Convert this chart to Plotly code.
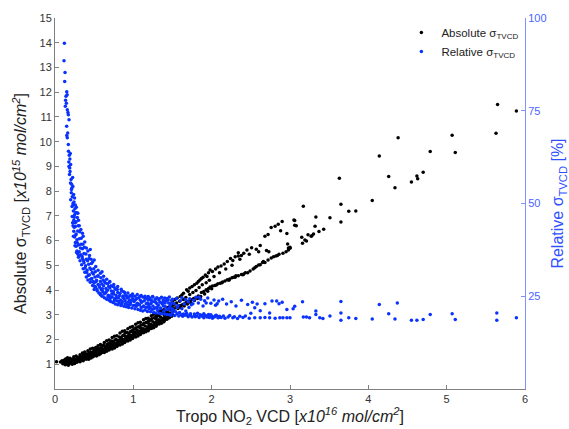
import plotly.graph_objects as go

# ---------------- Absolute sigma_TVCD (x: 1e16 molec/cm2, y: 1e15 molec/cm2) ----------------
abs_start = [(0.02, 1.10), (0.07, 1.09), (0.09, 1.14), (0.10, 1.02)]

abs_band = [
    (0.11, 1.05), (0.12, 1.12), (0.13, 0.98), (0.13, 1.20), (0.14, 1.08), (0.15, 1.15), (0.15, 1.01),
    (0.16, 1.26), (0.17, 1.10), (0.17, 0.96), (0.18, 1.18), (0.19, 1.04), (0.19, 1.24), (0.20, 1.11),
    (0.21, 1.20), (0.22, 1.06), (0.22, 1.00), (0.23, 1.15), (0.24, 1.30), (0.24, 1.09), (0.25, 1.03),
    (0.26, 1.19), (0.26, 1.12), (0.27, 1.33), (0.28, 1.08), (0.28, 1.24), (0.29, 1.14), (0.30, 1.28),
    (0.31, 1.16), (0.32, 1.38), (0.32, 1.10), (0.33, 1.25), (0.34, 1.17), (0.35, 1.46), (0.35, 1.28),
    (0.36, 1.14), (0.37, 1.36), (0.38, 1.22), (0.38, 1.50), (0.39, 1.30), (0.40, 1.20), (0.40, 1.42),
    (0.41, 1.30), (0.42, 1.55), (0.43, 1.20), (0.43, 1.44), (0.44, 1.32), (0.45, 1.62), (0.46, 1.25),
    (0.46, 1.47), (0.47, 1.38), (0.48, 1.65), (0.48, 1.29), (0.49, 1.51), (0.50, 1.35), (0.50, 1.58),
    (0.51, 1.40), (0.52, 1.68), (0.53, 1.33), (0.53, 1.56), (0.54, 1.45), (0.55, 1.75), (0.56, 1.38),
    (0.56, 1.62), (0.57, 1.50), (0.58, 1.80), (0.58, 1.43), (0.59, 1.66), (0.60, 1.48), (0.60, 1.72),
    (0.61, 1.55), (0.62, 1.78), (0.63, 1.48), (0.63, 1.88), (0.64, 1.60), (0.65, 1.72), (0.66, 1.53),
    (0.66, 1.95), (0.67, 1.66), (0.68, 1.83), (0.69, 1.58), (0.69, 1.98), (0.70, 1.63), (0.70, 1.86),
    (0.71, 1.68), (0.72, 1.94), (0.73, 1.62), (0.73, 2.08), (0.74, 1.73), (0.75, 1.88), (0.76, 1.66),
    (0.76, 2.13), (0.77, 1.79), (0.78, 2.00), (0.79, 1.72), (0.79, 2.15), (0.80, 1.77), (0.80, 1.96),
    (0.81, 1.84), (0.82, 2.10), (0.83, 1.78), (0.83, 2.26), (0.84, 1.90), (0.85, 2.04), (0.86, 1.82),
    (0.86, 2.33), (0.87, 1.96), (0.88, 2.18), (0.89, 1.88), (0.89, 2.36), (0.90, 1.94), (0.90, 2.12),
    (0.91, 2.00), (0.92, 2.28), (0.93, 1.94), (0.93, 2.44), (0.94, 2.05), (0.95, 2.20), (0.96, 1.98),
    (0.96, 2.50), (0.97, 2.12), (0.98, 2.34), (0.99, 2.04), (0.99, 2.53), (1.00, 2.10), (1.00, 2.30),
    (1.01, 2.16), (1.02, 2.44), (1.03, 2.10), (1.03, 2.62), (1.04, 2.22), (1.05, 2.38), (1.06, 2.14),
    (1.06, 2.68), (1.07, 2.28), (1.08, 2.50), (1.09, 2.20), (1.09, 2.70), (1.10, 2.26), (1.10, 2.46),
    (1.11, 2.33), (1.12, 2.60), (1.13, 2.27), (1.13, 2.80), (1.14, 2.38), (1.15, 2.55), (1.16, 2.31),
    (1.16, 2.85), (1.17, 2.44), (1.18, 2.68), (1.19, 2.36), (1.19, 2.86), (1.20, 2.42), (1.20, 2.64),
    (1.21, 2.50), (1.22, 2.78), (1.23, 2.45), (1.23, 2.96), (1.24, 2.55), (1.25, 2.72), (1.26, 2.48),
    (1.26, 3.02), (1.27, 2.62), (1.28, 2.86), (1.29, 2.54), (1.29, 3.00), (1.30, 2.60), (1.30, 2.80),
    (1.31, 2.67), (1.32, 2.96), (1.33, 2.63), (1.33, 3.14), (1.34, 2.73), (1.35, 2.90), (1.36, 2.66),
    (1.36, 3.18), (1.37, 2.80), (1.38, 3.04), (1.39, 2.72), (1.39, 3.20), (1.40, 2.78), (1.40, 2.98),
    (1.41, 2.86), (1.42, 3.12), (1.43, 2.82), (1.44, 3.30), (1.45, 2.92), (1.45, 3.08), (1.46, 2.88),
    (1.47, 3.36), (1.48, 2.98), (1.48, 3.20), (1.49, 2.94), (1.50, 3.40), (1.50, 3.00), (1.51, 3.16),
]

abs_band_fill = [
    (0.115, 1.15), (0.135, 1.04), (0.145, 1.22), (0.165, 1.02), (0.175, 1.16), (0.185, 1.09), (0.195, 1.20),
    (0.205, 1.06), (0.215, 1.13), (0.235, 1.22), (0.245, 1.05), (0.255, 1.16), (0.275, 1.10), (0.295, 1.21),
    (0.305, 1.22), (0.325, 1.31), (0.345, 1.24), (0.355, 1.35), (0.365, 1.20), (0.385, 1.40), (0.395, 1.24),
    (0.405, 1.36), (0.425, 1.42), (0.435, 1.27), (0.455, 1.50), (0.465, 1.40), (0.485, 1.45), (0.495, 1.33),
    (0.505, 1.52), (0.525, 1.47), (0.535, 1.64), (0.545, 1.40), (0.565, 1.56), (0.575, 1.66), (0.595, 1.52),
    (0.605, 1.62), (0.625, 1.58), (0.635, 1.72), (0.655, 1.64), (0.665, 1.80), (0.685, 1.70), (0.695, 1.77),
    (0.705, 1.72), (0.725, 1.80), (0.735, 1.92), (0.755, 1.76), (0.765, 1.98), (0.785, 1.85), (0.795, 1.80),
    (0.805, 1.90), (0.825, 1.96), (0.835, 2.08), (0.855, 1.92), (0.865, 2.15), (0.885, 2.00), (0.895, 2.26),
    (0.905, 2.04), (0.925, 2.12), (0.935, 2.25), (0.955, 2.08), (0.965, 2.32), (0.985, 2.18), (0.995, 2.40),
    (1.005, 2.20), (1.025, 2.30), (1.035, 2.48), (1.055, 2.24), (1.065, 2.52), (1.085, 2.34), (1.095, 2.58),
    (1.105, 2.38), (1.125, 2.44), (1.135, 2.66), (1.155, 2.40), (1.165, 2.70), (1.185, 2.52), (1.195, 2.76),
    (1.205, 2.54), (1.225, 2.62), (1.235, 2.84), (1.255, 2.58), (1.265, 2.88), (1.285, 2.70), (1.295, 2.92),
    (1.305, 2.72), (1.325, 2.80), (1.335, 3.02), (1.355, 2.76), (1.365, 3.06), (1.385, 2.86), (1.395, 3.10),
    (1.405, 2.92), (1.425, 2.98), (1.435, 3.20), (1.455, 2.96), (1.465, 3.24), (1.485, 3.06), (1.495, 3.28),
]

abs_branch_low = [
    (1.52, 3.24), (1.55, 3.30), (1.58, 3.33), (1.60, 3.38), (1.63, 3.42), (1.66, 3.47), (1.68, 3.52),
    (1.71, 3.55), (1.74, 3.61), (1.77, 3.66), (1.80, 3.70), (1.83, 3.76), (1.87, 3.90), (1.90, 3.94),
    (1.93, 4.01), (1.96, 4.06), (1.98, 4.12), (2.01, 4.16), (2.04, 4.18), (2.08, 4.26), (2.11, 4.28),
    (2.14, 4.33), (2.17, 4.37), (2.20, 4.42), (2.23, 4.45), (2.26, 4.50), (2.28, 4.52), (2.31, 4.58),
    (2.34, 4.58), (2.38, 4.63), (2.41, 4.65), (2.43, 4.70), (2.46, 4.70), (2.49, 4.77), (2.53, 4.85),
    (2.57, 4.95), (2.60, 5.01), (2.62, 5.02), (2.65, 5.11), (2.68, 5.11), (2.72, 5.22), (2.76, 5.30),
    (2.79, 5.35), (2.82, 5.38), (2.86, 5.45), (2.91, 5.49), (2.95, 5.55), (2.98, 5.62), (3.00, 5.69),
    (2.97, 5.86), (2.73, 5.55), (3.00, 5.73), (2.98, 5.70),
]

abs_branch_high = [
    (1.50, 3.55), (1.53, 3.62), (1.56, 3.68), (1.60, 3.74), (1.62, 3.80), (1.64, 3.87), (1.68, 4.01),
    (1.70, 3.95), (1.72, 4.08), (1.75, 4.14), (1.78, 4.22), (1.81, 4.28), (1.83, 4.35), (1.85, 4.41),
    (1.87, 4.47), (1.89, 4.52), (1.92, 4.61), (1.94, 4.55), (1.96, 4.70), (1.98, 4.81), (2.01, 4.75),
    (2.05, 4.85), (2.08, 4.93), (2.12, 4.97), (2.16, 5.05), (2.20, 5.15), (2.24, 5.28), (2.27, 5.20),
    (2.30, 5.35), (2.34, 5.38), (2.34, 5.51), (2.38, 5.40), (2.41, 5.49), (2.45, 5.62), (2.51, 5.71),
    (2.57, 5.65), (2.62, 5.80), (2.68, 6.18), (2.72, 6.25), (2.76, 6.53), (2.81, 6.58), (2.85, 6.66),
    (2.90, 6.77), (2.96, 6.29), (3.05, 6.83), (3.06, 6.62), (3.06, 6.81), (3.08, 6.60),
]

abs_branch_fill = [
    (1.52, 3.40), (1.55, 3.48), (1.57, 3.25), (1.59, 3.55), (1.61, 3.30), (1.64, 3.62), (1.65, 3.36),
    (1.67, 3.70), (1.69, 3.44), (1.72, 3.82), (1.73, 3.50), (1.76, 3.90), (1.78, 3.58), (1.80, 3.98),
    (1.82, 3.66), (1.84, 4.10), (1.86, 3.74), (1.88, 4.22), (1.91, 3.84), (1.93, 4.30), (1.95, 3.95),
    (1.97, 4.40), (2.00, 4.05), (2.03, 4.55), (2.06, 4.20), (2.10, 4.70), (2.13, 4.30), (2.18, 4.85),
    (2.22, 4.40), (2.26, 5.00), (2.30, 4.52), (2.36, 5.25), (2.40, 4.62), (2.48, 5.45), (2.55, 4.90),
    (2.60, 5.55), (2.66, 5.15), (2.70, 5.60), (2.84, 5.40), (2.88, 6.40),
]

abs_sparse = [
    (3.15, 6.14), (3.16, 5.89), (3.17, 7.39), (3.19, 6.02), (3.21, 5.98), (3.23, 6.24), (3.27, 6.18),
    (3.28, 6.20), (3.30, 6.27), (3.32, 6.58), (3.33, 6.95), (3.37, 6.37), (3.43, 6.46), (3.51, 6.92),
    (3.63, 8.52), (3.65, 7.47), (3.65, 6.75), (3.75, 7.19), (3.84, 7.20), (4.05, 7.62), (4.14, 9.42),
    (4.26, 8.59), (4.34, 8.14), (4.38, 10.16), (4.55, 8.37), (4.62, 8.61), (4.63, 8.50), (4.70, 8.76),
    (4.79, 9.60), (5.07, 10.26), (5.11, 9.56), (5.63, 10.34), (5.65, 11.50), (5.89, 11.24),
]

# ---------------- Relative sigma_TVCD (%) ----------------
rel_steep = [
    (0.120, 93.2), (0.115, 88.5), (0.128, 85.3), (0.124, 82.9), (0.150, 80.1), (0.155, 79.3),
    (0.140, 78.9), (0.135, 77.8), (0.132, 76.2), (0.145, 77.0), (0.157, 75.3), (0.170, 73.9),
    (0.179, 72.6), (0.165, 74.5), (0.149, 70.8), (0.162, 69.0), (0.157, 67.7), (0.170, 65.9),
    (0.150, 68.3), (0.172, 64.1), (0.182, 63.0), (0.190, 62.0), (0.176, 61.2), (0.200, 60.5),
    (0.188, 59.6), (0.178, 60.0), (0.195, 63.5), (0.185, 57.8), (0.205, 56.5), (0.198, 55.5),
    (0.215, 54.2), (0.208, 52.9), (0.225, 57.0), (0.200, 51.0), (0.230, 50.0), (0.218, 49.2),
    (0.250, 51.5), (0.235, 48.0), (0.265, 47.5), (0.245, 46.3), (0.285, 46.2), (0.258, 44.8),
    (0.210, 53.8), (0.220, 51.8), (0.230, 49.5), (0.250, 47.0), (0.270, 45.1), (0.280, 47.5),
    (0.260, 49.6), (0.300, 45.5), (0.310, 44.0), (0.192, 58.6), (0.212, 55.2), (0.238, 52.4),
    (0.228, 54.6), (0.242, 50.4), (0.255, 48.6), (0.272, 49.0), (0.292, 47.4),
]

rel_curve = [
    (0.22, 46.5), (0.23, 44.0), (0.24, 42.5), (0.24, 45.5), (0.25, 41.0), (0.26, 43.8), (0.26, 39.5),
    (0.27, 41.8), (0.27, 38.5), (0.28, 40.2), (0.28, 37.2), (0.29, 42.6), (0.29, 36.4), (0.30, 38.8),
    (0.30, 35.5), (0.31, 40.5), (0.31, 37.0), (0.32, 34.6), (0.33, 36.2), (0.33, 39.0), (0.34, 33.5),
    (0.35, 35.2), (0.35, 37.8), (0.36, 32.4), (0.37, 34.0), (0.37, 36.5), (0.38, 31.5), (0.39, 33.2),
    (0.40, 30.2), (0.40, 35.0), (0.41, 32.0), (0.42, 29.4), (0.43, 33.6), (0.44, 30.8), (0.45, 28.8),
    (0.46, 32.2), (0.47, 29.8), (0.48, 27.9), (0.49, 31.0), (0.50, 28.6), (0.50, 26.8),
    (0.33, 43.0), (0.35, 42.0), (0.36, 41.2), (0.38, 39.6), (0.40, 38.0), (0.42, 37.2), (0.44, 36.0),
    (0.45, 37.6), (0.46, 35.0), (0.48, 34.2), (0.50, 34.8), (0.52, 33.0), (0.55, 32.0), (0.58, 31.2),
    (0.60, 31.6), (0.62, 30.4), (0.66, 29.6), (0.70, 29.0), (0.75, 28.2), (0.80, 27.6),
    (0.51, 30.2), (0.52, 27.5), (0.53, 29.3), (0.54, 26.4), (0.55, 28.2), (0.55, 30.5), (0.56, 25.9),
    (0.57, 27.4), (0.58, 29.0), (0.58, 25.4), (0.59, 26.8), (0.60, 28.3), (0.60, 25.0),
    (0.61, 26.3), (0.62, 27.8), (0.63, 24.6), (0.63, 29.0), (0.64, 25.8), (0.65, 27.1), (0.66, 24.2),
    (0.67, 26.6), (0.67, 28.4), (0.68, 25.3), (0.69, 23.9), (0.70, 27.2), (0.70, 25.0),
    (0.71, 23.6), (0.72, 26.4), (0.73, 24.8), (0.74, 27.6), (0.74, 23.3), (0.75, 25.6), (0.76, 24.3),
    (0.77, 22.9), (0.77, 26.9), (0.78, 25.2), (0.79, 23.8), (0.80, 26.0), (0.80, 22.7),
    (0.81, 24.6), (0.82, 23.2), (0.83, 25.8), (0.84, 22.5), (0.84, 24.0), (0.85, 26.5), (0.86, 23.5),
    (0.87, 25.1), (0.88, 22.3), (0.88, 24.4), (0.89, 26.0), (0.90, 23.0), (0.90, 25.3),
    (0.91, 22.2), (0.92, 24.5), (0.93, 23.4), (0.93, 25.9), (0.94, 22.0), (0.95, 24.0), (0.96, 25.2),
    (0.96, 22.8), (0.97, 23.7), (0.98, 21.8), (0.99, 25.6), (0.99, 24.3), (1.00, 22.5),
    (1.01, 23.6), (1.02, 21.6), (1.02, 25.0), (1.03, 24.1), (1.04, 22.3), (1.05, 25.5), (1.05, 23.1),
    (1.06, 21.4), (1.07, 24.6), (1.08, 22.7), (1.09, 23.9), (1.09, 21.2), (1.10, 25.2), (1.10, 22.0),
    (1.11, 23.5), (1.12, 21.0), (1.12, 24.8), (1.13, 22.4), (1.14, 23.8), (1.15, 21.3), (1.15, 25.0),
    (1.16, 22.0), (1.17, 24.3), (1.18, 20.9), (1.18, 23.2), (1.19, 24.9), (1.20, 21.6), (1.20, 22.8),
    (1.21, 24.5), (1.22, 20.8), (1.22, 23.0), (1.23, 24.0), (1.24, 21.4), (1.25, 24.8), (1.25, 22.4),
    (1.26, 20.6), (1.27, 23.6), (1.28, 21.9), (1.28, 24.2), (1.29, 20.5), (1.30, 23.0), (1.30, 24.6),
    (1.31, 21.2), (1.32, 22.6), (1.33, 24.3), (1.33, 20.4), (1.34, 23.4), (1.35, 21.7), (1.36, 24.7),
    (1.36, 20.3), (1.37, 22.9), (1.38, 24.0), (1.39, 21.0), (1.39, 23.6), (1.40, 20.2), (1.40, 24.5),
    (1.41, 22.2), (1.42, 23.8), (1.43, 20.1), (1.43, 24.4), (1.44, 21.5), (1.45, 23.2), (1.46, 20.0),
    (1.46, 24.8), (1.47, 22.6), (1.48, 19.9), (1.49, 23.9), (1.49, 21.0), (1.50, 24.2), (1.50, 20.5),
]

rel_curve_fill = [
    (0.225, 44.8), (0.235, 41.2), (0.245, 43.6), (0.255, 38.6), (0.265, 41.5), (0.275, 36.8), (0.285, 39.4),
    (0.295, 44.0), (0.305, 36.0), (0.315, 42.4), (0.325, 38.0), (0.335, 40.6), (0.345, 35.8), (0.355, 39.0),
    (0.365, 34.6), (0.375, 38.2), (0.385, 32.6), (0.395, 36.4), (0.405, 31.4), (0.415, 34.6), (0.425, 30.6),
    (0.435, 35.2), (0.445, 32.6), (0.455, 29.6), (0.465, 33.8), (0.475, 31.4), (0.485, 29.0), (0.495, 32.4),
    (0.505, 27.6), (0.515, 31.6), (0.525, 29.0), (0.535, 26.8), (0.545, 30.4), (0.565, 28.0), (0.575, 25.8),
    (0.585, 30.0), (0.605, 27.0), (0.615, 29.4), (0.625, 25.6), (0.645, 28.6), (0.655, 26.2), (0.675, 24.8),
    (0.685, 27.6), (0.695, 28.8), (0.705, 24.4), (0.715, 27.8), (0.725, 25.6), (0.745, 26.2), (0.755, 23.8),
    (0.765, 27.2), (0.785, 24.6), (0.795, 26.8), (0.815, 23.6), (0.825, 25.2), (0.845, 26.9), (0.855, 23.0),
    (0.865, 24.8), (0.875, 26.2), (0.895, 23.8), (0.915, 25.0), (0.935, 22.6), (0.945, 24.8), (0.965, 23.2),
    (0.985, 25.0), (1.005, 23.8), (1.025, 22.6), (1.045, 24.4), (1.065, 22.9), (1.085, 25.0), (1.105, 23.4),
    (1.125, 22.2), (1.145, 24.6), (1.165, 23.0), (1.185, 22.2), (1.195, 24.0), (1.215, 22.0), (1.235, 23.4),
    (1.245, 24.9), (1.265, 21.6), (1.285, 23.4), (1.305, 22.0), (1.325, 24.0), (1.345, 21.8), (1.365, 23.2),
    (1.385, 22.4), (1.405, 23.2), (1.425, 21.4), (1.445, 24.0), (1.465, 21.9), (1.485, 23.1), (1.495, 21.6),
    (1.51, 21.3), (1.54, 20.8), (1.56, 22.0), (1.59, 20.6), (1.62, 21.6), (1.64, 20.2), (1.67, 21.0),
    (1.69, 19.9), (1.71, 22.0), (1.73, 20.3), (1.76, 23.0), (1.78, 19.8), (1.82, 20.4), (1.84, 24.8),
    (1.87, 19.9), (1.90, 20.3), (1.93, 23.2), (1.96, 19.6), (1.99, 20.0), (2.02, 19.4), (2.05, 19.8),
    (2.07, 23.0), (2.09, 19.3),
]

rel_flat = [
    (1.52, 23.0), (1.53, 19.8), (1.55, 24.4), (1.56, 20.3), (1.57, 22.5), (1.58, 19.7), (1.60, 23.8),
    (1.61, 20.0), (1.62, 24.6), (1.63, 19.6), (1.65, 22.9), (1.66, 19.9), (1.67, 24.1), (1.68, 20.4),
    (1.70, 23.5), (1.70, 19.5), (1.72, 24.3), (1.73, 19.8), (1.74, 22.7), (1.75, 19.4), (1.77, 23.9),
    (1.78, 20.2), (1.79, 19.5), (1.80, 24.7), (1.81, 19.7), (1.83, 23.2), (1.84, 19.3), (1.85, 20.0),
    (1.86, 24.2), (1.88, 19.6), (1.89, 22.4), (1.90, 19.2), (1.91, 23.8), (1.92, 19.8), (1.94, 19.4),
    (1.95, 24.5), (1.96, 20.1), (1.97, 19.3), (1.99, 23.1), (2.00, 19.6), (2.01, 19.1), (2.03, 24.0),
    (2.04, 19.5), (2.05, 22.6), (2.06, 19.9), (2.08, 19.2), (2.09, 23.7), (2.10, 19.6),
    (2.12, 19.3), (2.14, 24.2), (2.15, 19.7), (2.17, 19.1), (2.19, 22.9), (2.21, 19.4), (2.23, 19.8),
    (2.25, 23.5), (2.27, 19.2), (2.29, 19.5), (2.31, 22.4), (2.33, 19.0), (2.36, 19.6), (2.38, 23.9),
    (2.40, 19.3), (2.43, 19.7), (2.46, 22.8), (2.48, 19.1), (2.50, 20.4), (2.52, 23.4), (2.55, 19.2),
    (2.55, 21.9), (2.58, 22.9), (2.62, 19.2), (2.62, 21.1), (2.68, 19.3), (2.68, 23.0), (2.74, 19.2),
    (2.74, 20.5), (2.77, 23.7), (2.81, 19.1), (2.83, 23.7), (2.86, 23.0), (2.87, 19.2), (2.90, 23.4),
    (2.91, 19.2), (2.96, 19.2), (2.96, 21.4), (3.00, 19.2), (3.04, 21.6), (3.06, 22.3),
]

rel_sparse = [
    (3.16, 23.5), (3.17, 19.4), (3.21, 19.4), (3.25, 19.2), (3.33, 21.0), (3.33, 20.1), (3.38, 19.2),
    (3.42, 19.0), (3.51, 19.7), (3.65, 23.6), (3.65, 20.5), (3.65, 18.5), (3.75, 19.2), (3.84, 19.0),
    (4.05, 18.9), (4.14, 22.8), (4.26, 20.3), (4.34, 18.9), (4.37, 23.2), (4.55, 18.5), (4.62, 18.5),
    (4.70, 18.7), (4.79, 20.1), (5.07, 20.3), (5.11, 18.7), (5.64, 20.5), (5.64, 18.5), (5.89, 19.2),
]

x_ticks = [0, 1, 2, 3, 4, 5, 6]
y_ticks = list(range(1, 16))
y2_ticks = [25, 50, 75, 100]

abs_pts = abs_start + abs_band + abs_band_fill + abs_branch_low + abs_branch_high + abs_branch_fill + abs_sparse
rel_pts = rel_steep + rel_curve + rel_curve_fill + rel_flat + rel_sparse

BLUE = "#0a32ff"
FONT = "Liberation Sans, Arial, sans-serif"

fig = go.Figure()
fig.add_trace(go.Scatter(
    x=[p[0] for p in abs_pts], y=[p[1] for p in abs_pts], mode="markers",
    name="Absolute σ<sub>TVCD</sub>", marker=dict(color="#000000", size=3.5, line=dict(width=0)),
))
fig.add_trace(go.Scatter(
    x=[p[0] for p in rel_pts], y=[p[1] for p in rel_pts], mode="markers", yaxis="y2",
    name="Relative σ<sub>TVCD</sub>", marker=dict(color=BLUE, size=3.5, line=dict(width=0)),
))

fig.update_layout(
    width=569, height=429,
    margin=dict(l=55, r=44, t=18, b=40, autoexpand=False),
    paper_bgcolor="white", plot_bgcolor="white",
    font=dict(family=FONT, size=11, color="#333333"),
    showlegend=True,
    legend=dict(x=0.737, y=1.0, xanchor="left", yanchor="top",
                bgcolor="rgba(0,0,0,0)", font=dict(size=11.5, color="#222222"),
                itemsizing="trace", tracegroupgap=0),
    xaxis=dict(
        range=[0, 6], tickvals=x_ticks, ticks="inside", ticklen=4, tickcolor="#808080",
        showline=True, linecolor="#808080", linewidth=1, showgrid=False, zeroline=False,
        tickfont=dict(size=11, color="#333333"), automargin=False,
        title=dict(text="Tropo NO<sub>2</sub> VCD [<i>x10<sup>16</sup> mol/cm<sup>2</sup></i>]",
                   font=dict(size=16, color="#222222"), standoff=6),
    ),
    yaxis=dict(
        range=[0, 15], tickvals=y_ticks, ticks="inside", ticklen=4, tickcolor="#808080",
        showline=True, linecolor="#808080", linewidth=1, showgrid=False, zeroline=False,
        tickfont=dict(size=11, color="#333333"), automargin=False,
        title=dict(text="Absolute σ<sub>TVCD</sub> [<i>x10<sup>15</sup> mol/cm<sup>2</sup></i>]",
                   font=dict(size=16, color="#222222"), standoff=8),
    ),
    yaxis2=dict(
        range=[0, 100], tickvals=y2_ticks, overlaying="y", side="right",
        ticks="inside", ticklen=4, tickcolor="#7f93ff",
        showline=True, linecolor="#7f93ff", linewidth=1, showgrid=False, zeroline=False,
        tickfont=dict(size=11, color="#4a64ff"), automargin=False,
        title=dict(text="Relative σ<sub>TVCD</sub> [%]", font=dict(size=16, color="#2f50ff"), standoff=6),
    ),
)

fig.write_html("out.html", config={"displayModeBar": False},
               post_script="document.body.style.margin='0px';")
